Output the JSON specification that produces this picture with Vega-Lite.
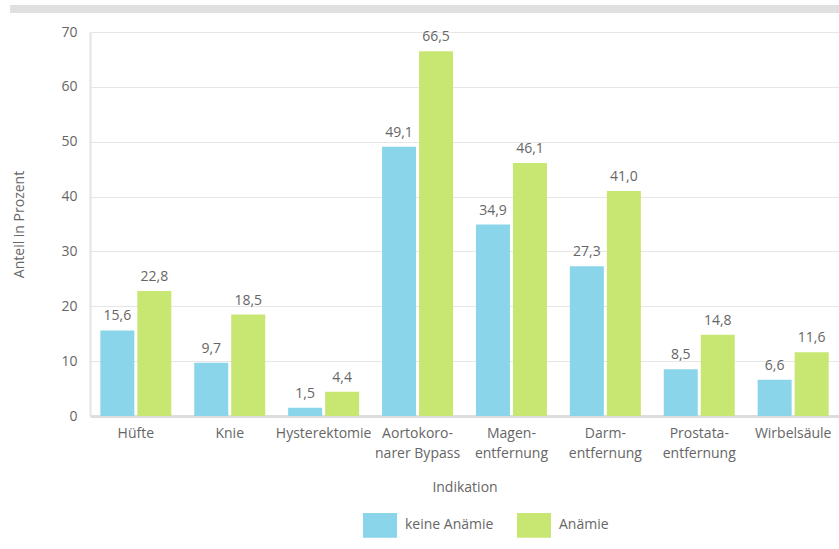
{
  "$schema": "https://vega.github.io/schema/vega-lite/v6.json",
  "width": 749,
  "height": 384,
  "autosize": {"type": "none"},
  "padding": {"left": 90, "top": 32, "right": 0, "bottom": 133},
  "background": "white",
  "config": {
    "locale": {"number": {"decimal": ",", "thousands": ".", "grouping": [3], "currency": ["", " €"]}},
    "font": "Open Sans",
    "view": {"stroke": null}
  },
  "datasets": {
    "bars": [
      {"Indikation": "Hüfte", "Gruppe": "keine Anämie", "Wert": 15.6},
      {"Indikation": "Hüfte", "Gruppe": "Anämie", "Wert": 22.8},
      {"Indikation": "Knie", "Gruppe": "keine Anämie", "Wert": 9.7},
      {"Indikation": "Knie", "Gruppe": "Anämie", "Wert": 18.5},
      {"Indikation": "Hysterektomie", "Gruppe": "keine Anämie", "Wert": 1.5},
      {"Indikation": "Hysterektomie", "Gruppe": "Anämie", "Wert": 4.4},
      {"Indikation": "Aortokoro-|narer Bypass", "Gruppe": "keine Anämie", "Wert": 49.1},
      {"Indikation": "Aortokoro-|narer Bypass", "Gruppe": "Anämie", "Wert": 66.5},
      {"Indikation": "Magen-|entfernung", "Gruppe": "keine Anämie", "Wert": 34.9},
      {"Indikation": "Magen-|entfernung", "Gruppe": "Anämie", "Wert": 46.1},
      {"Indikation": "Darm-|entfernung", "Gruppe": "keine Anämie", "Wert": 27.3},
      {"Indikation": "Darm-|entfernung", "Gruppe": "Anämie", "Wert": 41.0},
      {"Indikation": "Prostata-|entfernung", "Gruppe": "keine Anämie", "Wert": 8.5},
      {"Indikation": "Prostata-|entfernung", "Gruppe": "Anämie", "Wert": 14.8},
      {"Indikation": "Wirbelsäule", "Gruppe": "keine Anämie", "Wert": 6.6},
      {"Indikation": "Wirbelsäule", "Gruppe": "Anämie", "Wert": 11.6}
    ],
    "band": [{"y": 74.2, "x1": -0.1068, "x2": 1.0}]
  },
  "layer": [
    {
      "data": {"name": "bars"},
      "encoding": {
        "x": {
          "field": "Indikation", "type": "nominal", "sort": null,
          "scale": {"paddingInner": 0.244, "paddingOuter": 0.11},
          "axis": {
            "title": "Indikation", "labelAngle": 0,
            "labelExpr": "split(datum.label, '|')",
            "labelFontSize": 14, "labelColor": "#666", "labelPadding": 10,
            "labelLineHeight": 20, "labelBaseline": "top",
            "ticks": false, "domainColor": "#dddddd", "domainWidth": 3,
            "titleFontSize": 14, "titleFontWeight": "normal", "titleColor": "#666",
            "titlePadding": 20, "grid": false
          }
        },
        "xOffset": {
          "field": "Gruppe", "type": "nominal",
          "sort": ["keine Anämie", "Anämie"],
          "scale": {"paddingInner": 0.081, "paddingOuter": 0}
        },
        "y": {
          "field": "Wert", "type": "quantitative",
          "scale": {"domain": [0, 70], "nice": false},
          "axis": {
            "title": "Anteil in Prozent", "values": [0, 10, 20, 30, 40, 50, 60, 70],
            "labelFontSize": 14, "labelColor": "#666", "labelPadding": 13,
            "ticks": false, "domainColor": "#e3e3e3", "domainWidth": 2,
            "gridColor": "#e6e6e6", "gridWidth": 1,
            "titleFontSize": 14, "titleFontWeight": "normal", "titleColor": "#666",
            "titlePadding": 34
          }
        }
      },
      "layer": [
        {
          "mark": {"type": "bar"},
          "encoding": {
            "color": {
              "field": "Gruppe", "type": "nominal",
              "sort": ["keine Anämie", "Anämie"],
              "scale": {"domain": ["keine Anämie", "Anämie"], "range": ["#8bd5ea", "#c8e672"]},
              "legend": {
                "title": null, "orient": "none", "direction": "horizontal",
                "legendX": 273, "legendY": 476,
                "symbolType": "M-1,-0.73H1V0.73H-1Z", "symbolSize": 1156,
                "symbolStrokeWidth": 0, "symbolOpacity": 1,
                "labelFontSize": 14, "labelColor": "#666", "labelOffset": 8,
                "columnPadding": 23
              }
            }
          }
        },
        {
          "mark": {"type": "text", "baseline": "bottom", "dy": -7, "fontSize": 14, "color": "#666"},
          "encoding": {
            "text": {"field": "Wert", "type": "quantitative", "format": ".1f"}
          }
        }
      ]
    },
    {
      "data": {"name": "band"},
      "mark": {"type": "rule", "color": "#e0e0e0", "strokeWidth": 8, "clip": false},
      "encoding": {
        "x": {"field": "x1", "type": "quantitative", "scale": {"domain": [0, 1]}, "axis": null},
        "x2": {"field": "x2"},
        "y": {"field": "y", "type": "quantitative"}
      }
    }
  ],
  "resolve": {"scale": {"x": "independent"}}
}
